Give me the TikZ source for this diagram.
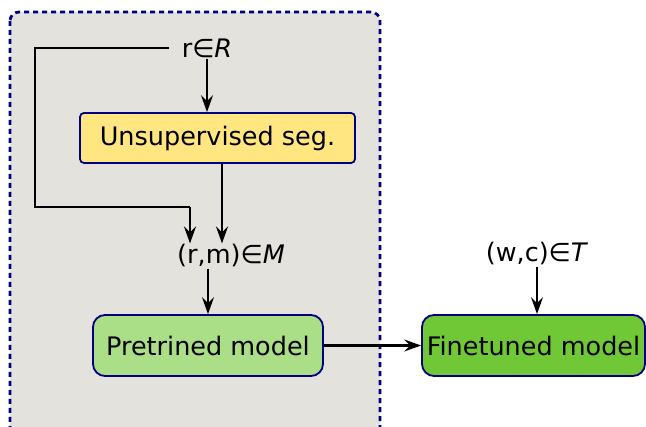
\documentclass[tikz,border=0pt]{standalone}
\usepackage{fontspec}
\setmainfont{DejaVu Sans}
\usetikzlibrary{arrows.meta,calc}
\definecolor{bgfill}{HTML}{E3E2DC}
\definecolor{navy}{HTML}{000080}
\definecolor{yellowbox}{HTML}{FFE680}
\definecolor{lightgreen}{HTML}{AADE87}
\definecolor{darkgreen}{HTML}{71C837}
\begin{document}
\begin{tikzpicture}[x=1pt,y=-1pt,
  box/.style={draw=navy,line width=1.8pt,font=\fontsize{25.5}{30}\selectfont,inner sep=0pt},
  lbl/.style={font=\fontsize{25.5}{30}\selectfont,inner sep=1pt},
  arr/.style={line width=2.4pt,-{Stealth[length=17pt,width=12pt,inset=6pt]}},
  ln/.style={line width=2.4pt}]
\useasboundingbox (0,0) rectangle (646,427);
\draw[fill=bgfill,draw=navy,line width=2.8pt,dash pattern=on 5pt off 4pt,rounded corners=9pt] (10,12) rectangle (380,436);
\node[box,fill=yellowbox,rounded corners=4pt,minimum width=275pt,minimum height=50pt] (u) at (217.5,138) {Unsupervised seg.};
\node[box,fill=lightgreen,rounded corners=12pt,minimum width=230pt,minimum height=61pt] (p) at (208,345.5) {Pretrined model};
\node[box,fill=darkgreen,rounded corners=12pt,minimum width=223pt,minimum height=61pt] (f) at (533.5,345.5) {Finetuned model};
\node[lbl] (r) at (207,48) {r∈\textit{R}};
\node[lbl] (rm) at (231,256) {(r,m)∈\textit{M}};
\node[lbl] (wc) at (537,254) {(w,c)∈\textit{T}};
\coordinate (c1) at (35,48);
\coordinate (c2) at (35,207);
\coordinate (c3) at (190,207);
\draw[ln] ([xshift=-12pt]r.west) -- (c1) -- (c2) -- (c3);
\draw[arr] (c3) -- (c3 |- rm.north);
\draw[arr] (r.south) -- (r.south |- u.north);
\draw[arr] ([xshift=4.5pt]u.south) -- ([xshift=4.5pt]u.south |- rm.north);
\draw[arr] ([xshift=-23pt]rm.south) -- ([xshift=-23pt]rm.south |- p.north);
\draw[arr] (p.east) -- (f.west);
\draw[arr] (wc.south) -- (wc.south |- f.north);
\end{tikzpicture}
\end{document}
